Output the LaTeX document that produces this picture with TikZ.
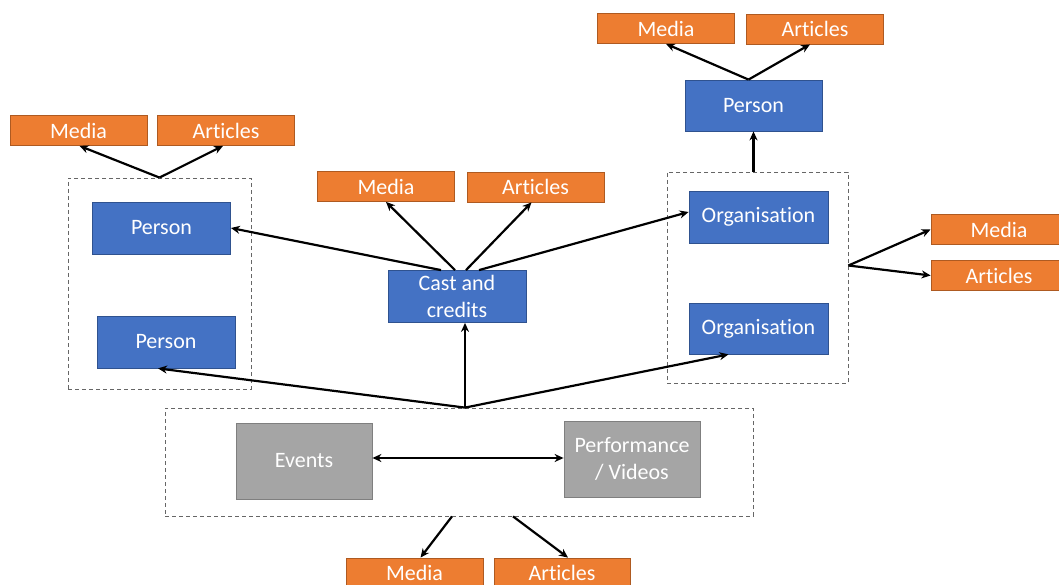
\documentclass[tikz,border=0pt]{standalone}
\usepackage{fontspec}
\setmainfont[Ligatures=NoCommon]{Carlito}
\usetikzlibrary{arrows.meta}
\definecolor{orangefill}{HTML}{ED7D31}
\definecolor{orangeedge}{HTML}{AE5A21}
\definecolor{bluefill}{HTML}{4472C4}
\definecolor{blueedge}{HTML}{2F528F}
\definecolor{grayfill}{HTML}{A5A5A5}
\definecolor{grayedge}{HTML}{7F7F7F}
\tikzset{
  box/.style={rectangle, inner sep=0pt, text=white, font=\fontsize{22}{27}\selectfont, align=center, line width=0.8pt},
  orangebox/.style={box, fill=orangefill, draw=orangeedge, minimum width=137pt, minimum height=30pt},
  bluebox/.style={box, fill=bluefill, draw=blueedge, minimum width=138pt, minimum height=52pt},
  graybox/.style={box, fill=grayfill, draw=grayedge, minimum width=136pt, minimum height=76pt},
  group/.style={rectangle, draw=gray!80!black, dash pattern=on 4pt off 3pt, line width=0.8pt, inner sep=0pt},
  link/.style={line width=2.2pt, -{Stealth[length=9pt,width=8pt]}},
  link2/.style={line width=2.2pt, {Stealth[length=9pt,width=8pt]}-{Stealth[length=9pt,width=8pt]}}
}
\begin{document}
\begin{tikzpicture}[x=1pt,y=-1pt]
\clip (0,0) rectangle (1059,585);
\useasboundingbox (0,0) rectangle (1059,585);
\fill[white] (0,0) rectangle (1059,585);

% groups
\node[group, minimum width=183pt, minimum height=211pt] (ldash) at (159.5,283.5) {};
\node[group, minimum width=181pt, minimum height=211pt] (rdash) at (757.5,277.5) {};
\node[group, minimum width=588pt, minimum height=108pt] (bdash) at (459,462) {};

% left cluster
\node[orangebox] (mediaL) at (78.5,130.5) {Media};
\node[orangebox] (articlesL) at (226,130.5) {Articles};
\node[bluebox] (person1) at (161.5,228) {Person};
\node[bluebox] (person2) at (166,342) {Person};

% centre
\node[orangebox] (mediaC) at (386,186.5) {Media};
\node[orangebox] (articlesC) at (535.5,187) {Articles};
\node[bluebox] (cast) at (457,296.5) {Cast and\\credits};

% right cluster
\node[orangebox] (mediaT) at (666,28.5) {Media};
\node[orangebox] (articlesT) at (815,29) {Articles};
\node[bluebox, minimum width=137pt, minimum height=51pt] (person3) at (753.5,105.5) {Person};
\node[bluebox, minimum width=139pt] (org1) at (758.5,217) {Organisation};
\node[bluebox, minimum width=139pt, minimum height=51pt] (org2) at (758.5,328.5) {Organisation};
\node[orangebox, minimum width=136pt] (mediaR) at (999,229.5) {Media};
\node[orangebox, minimum width=136pt] (articlesR) at (999,275.5) {Articles};

% bottom
\node[graybox] (events) at (304,461) {Events};
\node[graybox] (perf) at (632,459) {Performance\\/ Videos};
\node[orangebox] (mediaB) at (414.5,573) {Media};
\node[orangebox, minimum width=136pt] (articlesB) at (562,573) {Articles};

% connectors
\draw[link] (ldash.north) -- ([xshift=1pt]mediaL.south);
\draw[link] (ldash.north) -- ([xshift=-3pt]articlesL.south);

\draw[link] ([xshift=-2pt]cast.north) -- (mediaC.south);
\draw[link] ([xshift=9pt]cast.north) -- ([xshift=-4pt]articlesC.south);
\draw[link] ([xshift=-16pt]cast.north) -- (person1.east);
\draw[link] ([xshift=22pt]cast.north) -- ([yshift=5pt]org1.west);

\draw[link] ([xshift=-5pt]person3.north) -- (mediaT.south);
\draw[link] ([xshift=-5pt]person3.north) -- ([xshift=-5pt]articlesT.south);
\draw[link] (person3.south |- rdash.north) -- (person3.south);

\coordinate (rhub) at ([yshift=12pt]rdash.east);
\draw[link] (rhub) -- (mediaR.west);
\draw[link] (rhub) -- (articlesR.west);

\coordinate (bhub) at ([xshift=6pt]bdash.north);
\draw[link] (bhub) -- ([xshift=-8pt]person2.south);
\draw[link] (bhub) -- (bhub |- cast.south);
\draw[link] (bhub) -- ([xshift=-30pt]org2.south);

\draw[link2] ([yshift=3pt]events.east) -- ([yshift=1pt]perf.west);

\draw[link] ([xshift=-7pt]bdash.south) -- ([xshift=6pt]mediaB.north);
\draw[link] ([xshift=54pt]bdash.south) -- ([xshift=6pt]articlesB.north);
\end{tikzpicture}
\end{document}
